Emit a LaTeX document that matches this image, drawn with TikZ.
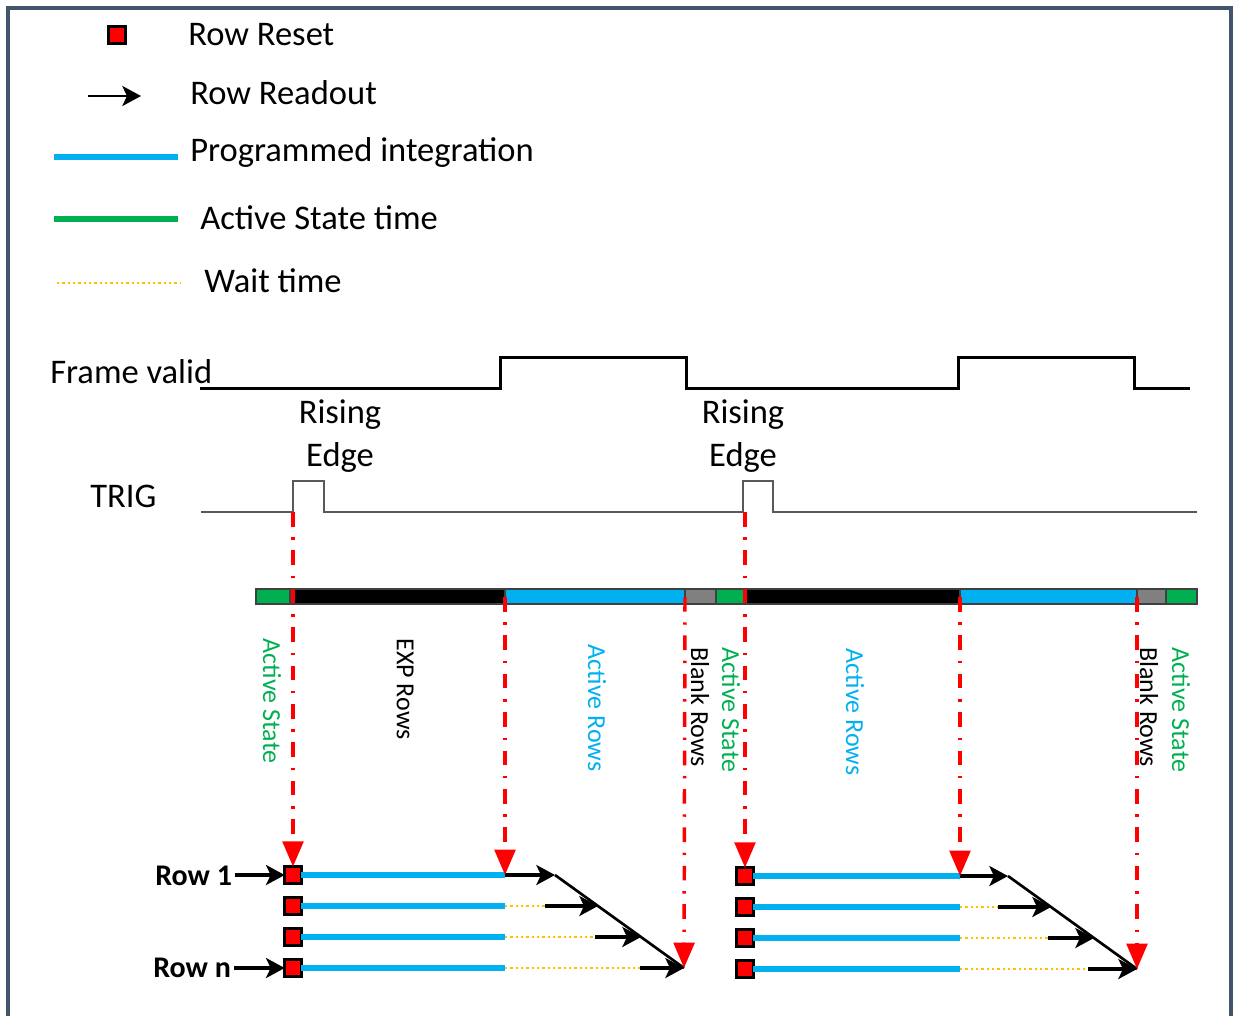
\documentclass[tikz,border=0pt]{standalone}
\usepackage{fontspec}
\setmainfont{Carlito}
\usetikzlibrary{arrows.meta}
\definecolor{frameline}{HTML}{44546A}
\definecolor{intblue}{HTML}{00B0F0}
\definecolor{actgreen}{HTML}{00B050}
\definecolor{waitorange}{HTML}{FFC000}
\definecolor{blankgray}{HTML}{808080}
\definecolor{triggray}{HTML}{595959}

\begin{document}
\begin{tikzpicture}[x=0.75pt,y=-0.75pt,
  lbl/.style={font=\fontsize{25.9}{31}\selectfont, inner sep=0pt, anchor=base west},
  edgelbl/.style={font=\fontsize{25.9}{31}\selectfont, inner sep=0pt, anchor=base},
  vlbl/.style={font=\fontsize{19.5}{23}\selectfont, inner sep=0pt, rotate=-90},
  rowlbl/.style={font=\bfseries\fontsize{22.5}{27}\selectfont, inner sep=0pt, anchor=base west},
  reset/.style={draw=black, fill=red, line width=2pt, minimum size=12.5pt, inner sep=0pt, outer sep=0pt},
  integ/.style={intblue, line width=5pt},
  legline/.style={line width=3.8pt},
  waitl/.style={waitorange, line width=1.8pt, dash pattern=on 1.8pt off 2.2pt},
  readout/.style={-{Stealth[length=14pt,width=15pt,inset=3.5pt]}, line width=2.3pt, black},
  trigger/.style={red, line width=2.6pt, dash pattern=on 11pt off 8pt on 1.8pt off 8pt,
    -{Triangle[length=19pt,width=15.5pt]}},
  seg/.style={draw=black!75, line width=1.2pt},
  wave/.style={line width=2.25pt, black},
  trigwave/.style={line width=1.5pt, triggray},
]
\clip (0,0) rectangle (1238,1015);
\path[use as bounding box] (0,0) rectangle (1238,1015);

% outer frame, open at the bottom edge
\draw[frameline, line width=3pt] (8,1030) -- (8,8) -- (1231,8) -- (1231,1030);

% ---------------- legend ----------------
\node[reset] (legreset) at (117,35) {};
\node[lbl] (legresettxt) at (188,45) {Row Reset};
\coordinate (legarrA) at (88,96);
\coordinate (legarrB) at (141,96);
\draw[readout, line width=2pt] (legarrA) -- (legarrB);
\node[lbl] (legreadtxt) at (190,104) {Row Readout};
\coordinate (legintA) at (54,157);
\coordinate (legintB) at (178,157);
\draw[legline, intblue] (legintA) -- (legintB);
\node[lbl] (leginttxt) at (190,161) {Programmed integration};
\coordinate (legactA) at (54,219);
\coordinate (legactB) at (178,219);
\draw[legline, actgreen] (legactA) -- (legactB);
\node[lbl] (legacttxt) at (200,229) {Active State time};
\coordinate (legwaitA) at (57,283);
\coordinate (legwaitB) at (180,283);
\draw[waitl] (legwaitA) -- (legwaitB);
\node[lbl] (legwaittxt) at (204,292) {Wait time};

% ---------------- frame valid ----------------
\node[lbl] (fvtxt) at (50,383) {Frame valid};
\draw[wave] (200,388) -- (500,388) -- (500,357) -- (686,357) -- (686,388)
  -- (958,388) -- (958,357) -- (1134,357) -- (1134,388) -- (1190,388);

% ---------------- trigger ----------------
\node[edgelbl] (rise1) at (340,423) {Rising};
\node[edgelbl] (edge1) at (340,466) {Edge};
\node[edgelbl] (rise2) at (743,423) {Rising};
\node[edgelbl] (edge2) at (743,466) {Edge};
\node[lbl] (trigtxt) at (90,507) {TRIG};
\draw[trigwave] (201,512) -- (293,512) -- (293,481) -- (324,481) -- (324,512)
  -- (743,512) -- (743,481) -- (773,481) -- (773,512) -- (1197,512);

% ---------------- row timing bar ----------------
\filldraw[seg, fill=actgreen]  (256,589) rectangle (290,604);
\filldraw[seg, fill=black]     (290,589) rectangle (505,604);
\filldraw[seg, fill=intblue]   (505,589) rectangle (685,604);
\filldraw[seg, fill=blankgray] (685,589) rectangle (716,604);
\filldraw[seg, fill=actgreen]  (716,589) rectangle (745,604);
\filldraw[seg, fill=black]     (745,589) rectangle (960,604);
\filldraw[seg, fill=intblue]   (960,589) rectangle (1137,604);
\filldraw[seg, fill=blankgray] (1137,589) rectangle (1166,604);
\filldraw[seg, fill=actgreen]  (1166,589) rectangle (1197,604);

% ---------------- segment labels ----------------
\node[vlbl, text=actgreen] (as1) at (272,701) {Active State};
\node[vlbl] (exp1) at (405,689) {EXP Rows};
\node[vlbl, text=intblue] (ar1) at (597,708) {Active Rows};
\node[vlbl] (br1) at (700,707) {Blank Rows};
\node[vlbl, text=actgreen] (as2) at (731,710) {Active State};
\node[vlbl, text=intblue] (ar2) at (855,712) {Active Rows};
\node[vlbl] (br2) at (1149,707) {Blank Rows};
\node[vlbl, text=actgreen] (as3) at (1181,710) {Active State};

% ---------------- first frame rows ----------------
\foreach \i/\y in {1/875, 2/906, 3/937, 4/968} {
  \node[reset] (ra\i) at (293,\y) {};
  \coordinate (ea\i) at (505,\y);
  \draw[integ] (ra\i.east) -- (ea\i);
}
\coordinate (da1) at (555,875);
\coordinate (da2) at (598,906);
\coordinate (da3) at (641,937);
\coordinate (da4) at (684,968);
\coordinate (wa2) at (545,906);
\coordinate (wa3) at (595,937);
\coordinate (wa4) at (640,968);
\draw[waitl] (ea2) -- (wa2);
\draw[waitl] (ea3) -- (wa3);
\draw[waitl] (ea4) -- (wa4);
\draw[readout] (ea1) -- (da1);
\draw[readout] (wa2) -- (da2);
\draw[readout] (wa3) -- (da3);
\draw[readout] (wa4) -- (da4);
\draw[line width=2pt] (da1) -- (da4);

\node[rowlbl] (row1) at (155,885) {Row 1};
\node[rowlbl] (rown) at (153,977) {Row n};
\draw[readout] ([xshift=2pt]row1.east |- ra1) -- (ra1.west);
\draw[readout] ([xshift=2pt]rown.east |- ra4) -- (ra4.west);

% ---------------- second frame rows ----------------
\foreach \i/\y in {1/876, 2/907, 3/938, 4/969} {
  \node[reset] (rb\i) at (745,\y) {};
  \coordinate (eb\i) at (960,\y);
  \draw[integ] (rb\i.east) -- (eb\i);
}
\coordinate (db1) at (1008,876);
\coordinate (db2) at (1051,907);
\coordinate (db3) at (1094,938);
\coordinate (db4) at (1137,969);
\coordinate (wb2) at (998,907);
\coordinate (wb3) at (1048,938);
\coordinate (wb4) at (1088,969);
\draw[waitl] (eb2) -- (wb2);
\draw[waitl] (eb3) -- (wb3);
\draw[waitl] (eb4) -- (wb4);
\draw[readout] (eb1) -- (db1);
\draw[readout] (wb2) -- (db2);
\draw[readout] (wb3) -- (db3);
\draw[readout] (wb4) -- (db4);
\draw[line width=2pt] (db1) -- (db4);

% ---------------- trigger markers ----------------
\coordinate (ta) at (293,512);
\coordinate (tb) at (745,512);
\coordinate (xa) at (505,597);
\coordinate (xb) at (960,597);
\coordinate (ka) at (685,597);
\coordinate (kb) at (1137,597);
\draw[trigger] (ta) -- (ra1.north);
\draw[trigger] (tb) -- (rb1.north);
\draw[trigger] (xa) -- (ea1);
\draw[trigger] (xb) -- (eb1);
\draw[trigger] (ka) -- (da4);
\draw[trigger] (kb) -- (db4);
\end{tikzpicture}
\end{document}
